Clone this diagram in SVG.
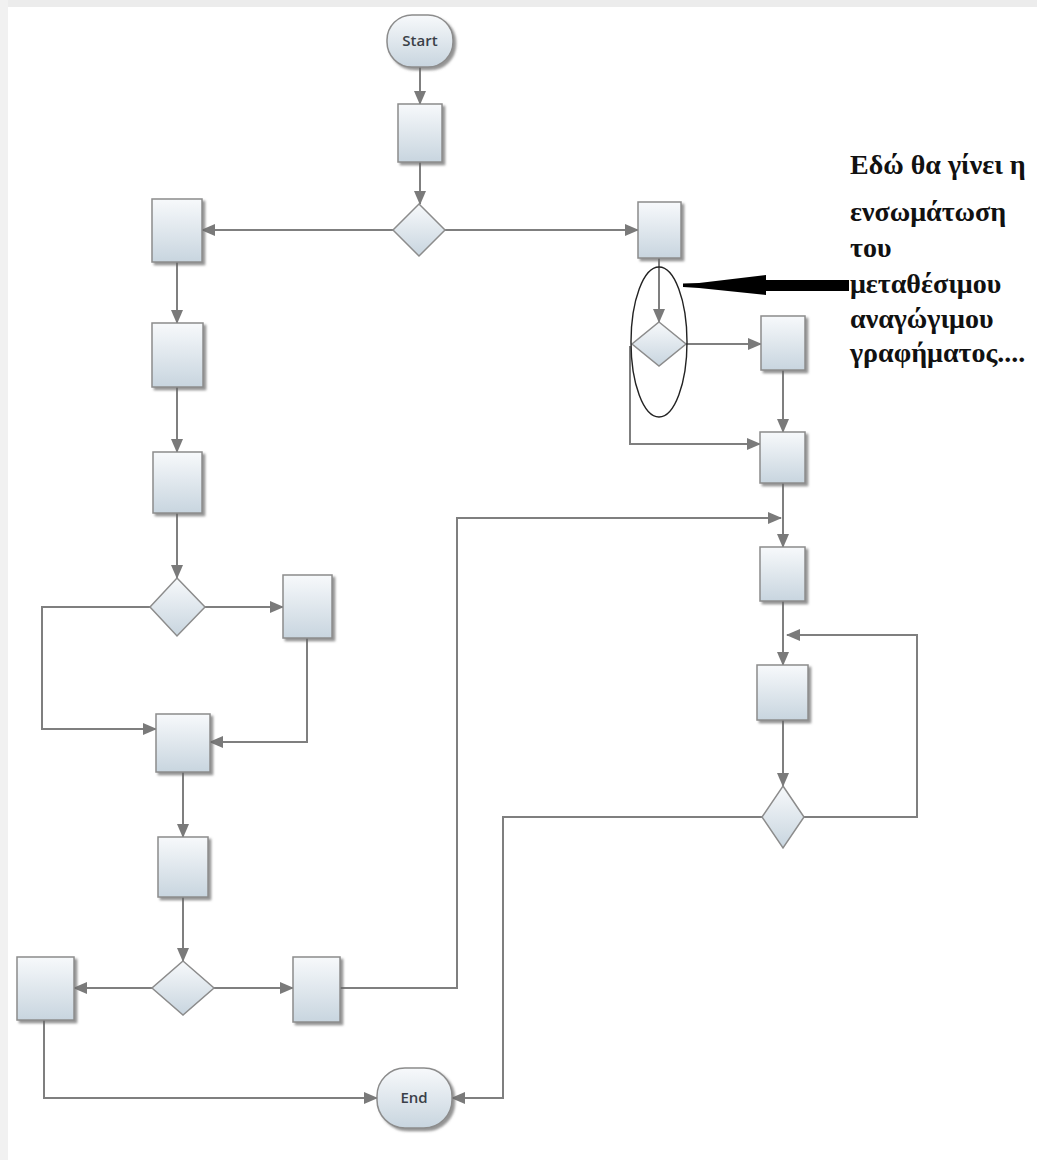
<svg xmlns="http://www.w3.org/2000/svg" width="1037" height="1160" viewBox="0 0 1037 1160">
<defs>
<linearGradient id="g" x1="0" y1="0" x2="0" y2="1">
<stop offset="0" stop-color="#f7f9fb"/>
<stop offset="1" stop-color="#c8d5df"/>
</linearGradient>
<marker id="ah" markerUnits="userSpaceOnUse" markerWidth="14" markerHeight="12" refX="13" refY="6" orient="auto">
<path d="M0,0 L14,6 L0,12 z" fill="#7a7a7a"/>
</marker>
<filter id="sh" x="-20%" y="-20%" width="150%" height="150%">
<feDropShadow dx="2.5" dy="2.5" stdDeviation="1" flood-color="#666" flood-opacity="0.7"/>
</filter>
</defs>
<style>
.box{fill:url(#g);stroke:#8c8c8c;stroke-width:1.5;filter:url(#sh)}
.dia{fill:url(#g);stroke:#8c8c8c;stroke-width:1.5}
.term{fill:url(#g);stroke:#8c8c8c;stroke-width:1.5;filter:url(#sh)}
.c{fill:none;stroke:#7f7f7f;stroke-width:2}
.a{marker-end:url(#ah)}
.tt{font-family:"Open Sans","DejaVu Sans",sans-serif;font-weight:600;font-size:15px;fill:#3a3f48;text-anchor:middle}
.note{font-family:"Liberation Serif","DejaVu Serif",serif;font-weight:bold;font-size:28px;fill:#111}
</style>
<rect x="0" y="0" width="1037" height="1160" fill="#ffffff"/>
<rect x="0" y="0" width="1037" height="7" fill="#ececec"/>
<rect x="0" y="0" width="8" height="1160" fill="#f1f1f1"/>

<g id="connectors">
<path class="c a" d="M420,67 V104"/>
<path class="c a" d="M420,162 V204"/>
<path class="c a" d="M393,230 H202"/>
<path class="c a" d="M445,230 H638"/>
<path class="c a" d="M177,262 V323"/>
<path class="c a" d="M177,387 V452"/>
<path class="c a" d="M177,513 V578"/>
<path class="c a" d="M205,607 H283"/>
<path class="c a" d="M150,607 H42 V729 H156"/>
<path class="c a" d="M307,638 V742 H210"/>
<path class="c a" d="M183,772 V837"/>
<path class="c a" d="M183,897 V961"/>
<path class="c a" d="M152,988 H74"/>
<path class="c a" d="M214,988 H293"/>
<path class="c a" d="M340,988 H457 V518 H781"/>
<path class="c a" d="M44,1020 V1098 H377"/>
<path class="c a" d="M659,258 V322"/>
<path class="c a" d="M686,344 H761"/>
<path class="c a" d="M630,346 V444 H760"/>
<path class="c a" d="M783,370 V432"/>
<path class="c a" d="M783,483 V547"/>
<path class="c a" d="M783,601 V665"/>
<path class="c a" d="M783,720 V786"/>
<path class="c a" d="M804,817 H917 V635 H787"/>
<path class="c a" d="M762,817 H503 V1098 H452"/>
</g>

<g id="start"><rect class="term" x="387" y="15" width="66" height="52" rx="25"/><text class="tt" x="420" y="46">Start</text></g>
<g id="n1"><rect class="box" x="398" y="104" width="44" height="58"/></g>
<g id="d1"><polygon class="dia" points="419,204 445,230 419,256 393,230"/></g>
<g id="a1"><rect class="box" x="152" y="199" width="50" height="63"/></g>
<g id="b1"><rect class="box" x="638" y="202" width="43" height="56"/></g>
<g id="a2"><rect class="box" x="152" y="323" width="51" height="64"/></g>
<g id="a3"><rect class="box" x="153" y="452" width="49" height="61"/></g>
<g id="a4"><polygon class="dia" points="177,578 205,607 177,636 150,607"/></g>
<g id="a5"><rect class="box" x="283" y="575" width="49" height="63"/></g>
<g id="a6"><rect class="box" x="156" y="714" width="54" height="58"/></g>
<g id="a7"><rect class="box" x="158" y="837" width="50" height="60"/></g>
<g id="a8"><polygon class="dia" points="183,961 214,988 183,1015 152,988"/></g>
<g id="a9"><rect class="box" x="17" y="957" width="57" height="63"/></g>
<g id="a10"><rect class="box" x="293" y="957" width="47" height="65"/></g>
<g id="b2"><polygon class="dia" points="659,322 686,344 659,366 632,344"/></g>
<g id="b3"><rect class="box" x="761" y="316" width="44" height="54"/></g>
<g id="b4"><rect class="box" x="760" y="432" width="45" height="51"/></g>
<g id="b5"><rect class="box" x="760" y="547" width="45" height="54"/></g>
<g id="b6"><rect class="box" x="757" y="665" width="51" height="55"/></g>
<g id="b7"><polygon class="dia" points="783,786 804,817 783,848 762,817"/></g>
<g id="end"><rect class="term" x="377" y="1068" width="75" height="60" rx="28"/><text class="tt" x="414" y="1103">End</text></g>

<g id="annotation">
<ellipse cx="659" cy="342" rx="28" ry="75" fill="none" stroke="#222" stroke-width="1.4"/>
<polygon points="849,280 766,280 766,275 699,283 683,283.5 683,287 699,288 766,295 766,291 849,291" fill="#000"/>
<text class="note" x="850" y="174">Εδώ θα γίνει η</text>
<text class="note" x="850" y="221">ενσωμάτωση</text>
<text class="note" x="850" y="257">του</text>
<text class="note" x="850" y="293">μεταθέσιμου</text>
<text class="note" x="850" y="328">αναγώγιμου</text>
<text class="note" x="850" y="362">γραφήματος....</text>
</g>
</svg>
